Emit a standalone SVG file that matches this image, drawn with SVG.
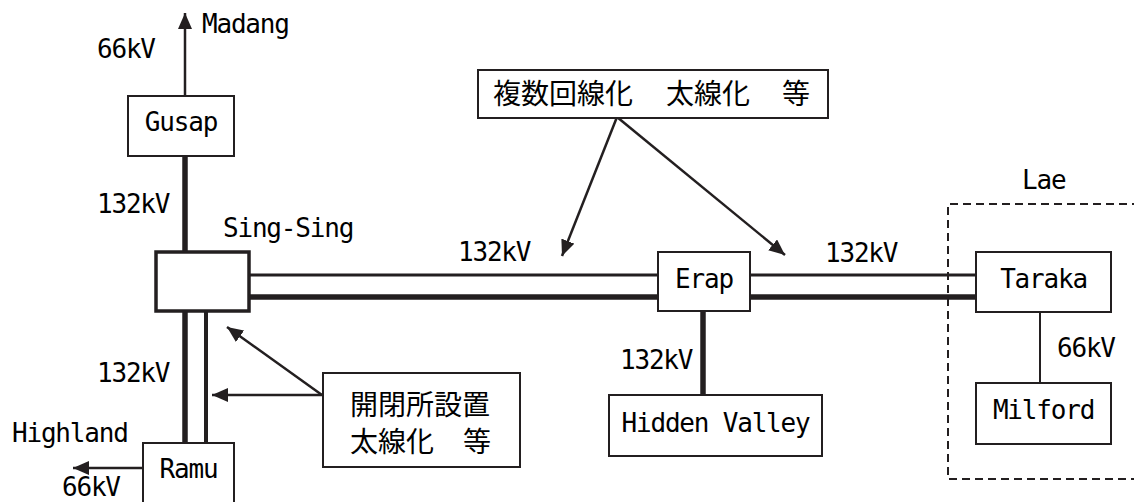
<svg xmlns="http://www.w3.org/2000/svg" width="1134" height="502" viewBox="0 0 1134 502">
<style>
.box{fill:#fff;stroke:#231f20;stroke-width:2}
.bold{fill:#fff;stroke:#231f20;stroke-width:3.5}
.t{font-family:"DejaVu Sans Mono","Liberation Mono",monospace;font-size:26px;letter-spacing:-1.2px;fill:#000}
.c{text-anchor:middle}
.j{font-family:"Noto Sans CJK JP","Noto Sans CJK SC",sans-serif;font-size:28px;fill:#000}
.thick{stroke:#231f20;stroke-width:5.5;fill:none}
.thin{stroke:#231f20;stroke-width:3;fill:none}
.ln{stroke:#231f20;stroke-width:2;fill:none}
.arr{stroke:#231f20;stroke-width:2.5;fill:none;marker-end:url(#ah)}
</style>
<defs>
<marker id="ah" markerUnits="userSpaceOnUse" markerWidth="16" markerHeight="14" refX="16" refY="7" orient="auto">
<path d="M0,0 L16,7 L0,14 z" fill="#231f20"/>
</marker>
</defs>

<g id="lae-area">
<path d="M1140,204 H948 V479 H1140" fill="none" stroke="#231f20" stroke-width="2" stroke-dasharray="8 5"/>
<text class="t" x="1022" y="189">Lae</text>
</g>

<g id="connectors">
<line class="arr" x1="185" y1="96" x2="185" y2="13"/>
<line class="thick" x1="185" y1="156" x2="185" y2="252"/>
<line class="thick" x1="185" y1="311" x2="185" y2="443"/>
<line class="thin" x1="206" y1="311" x2="206" y2="443" style="stroke-width:4"/>
<line class="arr" x1="143" y1="468" x2="73" y2="468"/>
<line class="thin" x1="249" y1="275" x2="658" y2="275"/>
<line class="thick" x1="249" y1="297" x2="658" y2="297"/>
<line class="thin" x1="750" y1="275" x2="976" y2="275"/>
<line class="thick" x1="750" y1="297" x2="976" y2="297"/>
<line class="thick" x1="703" y1="311" x2="703" y2="395"/>
<line class="ln" x1="1040" y1="312" x2="1040" y2="383"/>
<line class="arr" x1="617" y1="117" x2="562" y2="256"/>
<line class="arr" x1="617" y1="117" x2="785" y2="255"/>
<line class="arr" x1="322" y1="395" x2="227" y2="327"/>
<line class="arr" x1="322" y1="395" x2="212" y2="395"/>
</g>

<g id="labels">
<text class="t" x="202" y="33">Madang</text>
<text class="t" x="97" y="58">66kV</text>
<text class="t" x="97" y="213">132kV</text>
<text class="t" x="97" y="382">132kV</text>
<text class="t" x="12" y="442">Highland</text>
<text class="t" x="62" y="496">66kV</text>
<text class="t" x="458" y="261">132kV</text>
<text class="t" x="825" y="262">132kV</text>
<text class="t" x="620" y="369">132kV</text>
<text class="t" x="1057" y="357">66kV</text>
</g>

<g id="gusap">
<rect class="box" x="128" y="96" width="106" height="60"/>
<text class="t c" x="181" y="131">Gusap</text>
</g>

<g id="sing-sing">
<rect class="bold" x="156" y="252" width="93" height="59"/>
<text class="t" x="223" y="237">Sing-Sing</text>
</g>

<g id="ramu">
<rect class="box" x="143" y="443" width="91" height="70"/>
<text class="t c" x="188.5" y="478">Ramu</text>
</g>

<g id="erap">
<rect class="box" x="658" y="252" width="92" height="59"/>
<text class="t c" x="704" y="288">Erap</text>
</g>

<g id="hidden-valley">
<rect class="box" x="609" y="395" width="213" height="61"/>
<text class="t c" x="715.5" y="432">Hidden Valley</text>
</g>

<g id="taraka">
<rect class="box" x="976" y="252" width="135" height="60"/>
<text class="t c" x="1043.5" y="288">Taraka</text>
</g>

<g id="milford">
<rect class="box" x="976" y="383" width="135" height="61"/>
<text class="t c" x="1043.5" y="419">Milford</text>
</g>

<g id="note-lines">
<rect class="box" x="478" y="70" width="350" height="48"/>
<text class="j" y="104"><tspan x="493">複数回線化</tspan><tspan x="666">太線化</tspan><tspan x="782">等</tspan></text>
</g>

<g id="note-switch">
<rect class="box" x="323" y="373" width="197" height="94"/>
<text class="j" x="350" y="415">開閉所設置</text>
<text class="j" y="452"><tspan x="350">太線化</tspan><tspan x="463">等</tspan></text>
</g>
</svg>
